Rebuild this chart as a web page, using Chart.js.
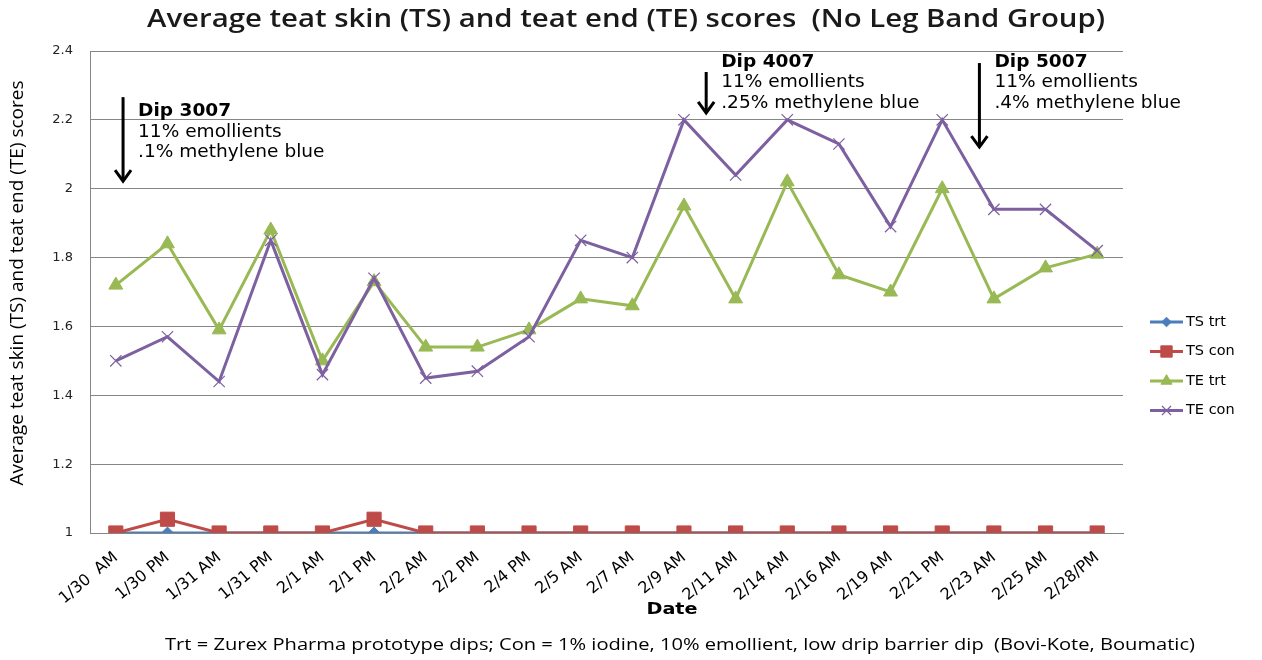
<!DOCTYPE html>
<html><head><meta charset="utf-8">
<script src="https://cdn.jsdelivr.net/npm/chart.js@4.4.0/dist/chart.umd.min.js"></script>
<style>html,body{margin:0;padding:0;background:#fff;}#wrap{width:1262px;height:660px;}</style>
</head><body><div id="wrap"><canvas id="c" width="1262" height="660"></canvas></div>
<script>
const categories = ["1/30  AM","1/30 PM","1/31 AM","1/31 PM","2/1 AM","2/1 PM","2/2 AM","2/2 PM","2/4 PM","2/5 AM","2/7 AM","2/9 AM","2/11 AM","2/14 AM","2/16 AM","2/19 AM","2/21 PM","2/23 AM","2/25 AM","2/28/PM"];
const tsTrt = [1,1,1,1,1,1,1,1,1,1,1,1,1,1,1,1,1,1,1,1];
const tsCon = [1,1.04,1,1,1,1.04,1,1,1,1,1,1,1,1,1,1,1,1,1,1];
const teTrt = [1.72,1.84,1.59,1.88,1.50,1.73,1.54,1.54,1.59,1.68,1.66,1.95,1.68,2.02,1.75,1.70,2.00,1.68,1.77,1.81];
const teCon = [1.50,1.57,1.44,1.85,1.46,1.74,1.45,1.47,1.57,1.85,1.80,2.20,2.04,2.20,2.13,1.89,2.20,1.94,1.94,1.82];
const yMin = 1, yMax = 2.4, yStep = 0.2;
const seriesNames = ["TS trt","TS con","TE trt","TE con"];
const chartTitle = "Average teat skin (TS) and teat end (TE) scores  (No Leg Band Group)";
const yAxisTitle = "Average teat skin (TS) and teat end (TE) scores";
const xAxisTitle = "Date";
const footnote = "Trt = Zurex Pharma prototype dips; Con = 1% iodine, 10% emollient, low drip barrier dip  (Bovi-Kote, Boumatic)";
const notes = [
  {arrowAt: 0.14, arrowFrom: 2.266, arrowTo: 2.022, textTop: 2.223, lines: ["Dip 3007","11% emollients",".1% methylene blue"]},
  {arrowAt: 11.43, arrowFrom: 2.339, arrowTo: 2.22, textTop: 2.368, lines: ["Dip 4007","11% emollients",".25% methylene blue"]},
  {arrowAt: 16.72, arrowFrom: 2.365, arrowTo: 2.121, textTop: 2.368, lines: ["Dip 5007","11% emollients",".4% methylene blue"]}
];

const COLORS = ["#4A7EBB","#BE4B48","#98B954","#7D60A0"];
const STYLES = [
  {pointStyle:"rectRot", radius:6, bw:1},
  {pointStyle:"rect", radius:10, bw:1},
  {pointStyle:"triangle", radius:8, bw:1},
  {pointStyle:"crossRot", radius:8, bw:1.2}
];
const seriesData = [tsTrt, tsCon, teTrt, teCon];

function fitScale(ctx, text, font, targetW){
  ctx.font = font;
  return targetW / ctx.measureText(text).width;
}
function stretchedText(ctx, text, x, y, font, color, align, sx){
  ctx.save();
  ctx.font = font; ctx.fillStyle = color; ctx.textAlign = align; ctx.textBaseline = "middle";
  ctx.translate(x, y); ctx.scale(sx, 1);
  ctx.fillText(text, 0, 0);
  ctx.restore();
}

const decor = {
  id: "decor",
  afterDraw(chart){
    const ctx = chart.ctx;
    const xs = chart.scales.x, ys = chart.scales.y;
    let f = "600 26px 'Open Sans'";
    stretchedText(ctx, chartTitle, 626, 20, f, "#1a1a1a", "center", fitScale(ctx, chartTitle, f, 958));
    f = "500 18px 'Open Sans'";
    const sy = fitScale(ctx, yAxisTitle, f, 405);
    ctx.save();
    ctx.translate(18, 283); ctx.rotate(-Math.PI/2); ctx.scale(sy, 1);
    ctx.font = f; ctx.fillStyle = "#000"; ctx.textAlign = "center"; ctx.textBaseline = "middle";
    ctx.fillText(yAxisTitle, 0, 0);
    ctx.restore();
    stretchedText(ctx, xAxisTitle, 672, 610, "bold 16px 'DejaVu Sans'", "#000", "center", 1.2);
    f = "normal 16.5px 'Open Sans'";
    stretchedText(ctx, footnote, 680, 645, f, "#000", "center", fitScale(ctx, footnote, f, 1030));
    notes.forEach(n => {
      const ax = xs.getPixelForValue(n.arrowAt);
      const y0 = ys.getPixelForValue(n.arrowFrom), y1 = ys.getPixelForValue(n.arrowTo);
      ctx.save();
      ctx.strokeStyle = "#000"; ctx.lineWidth = 3; ctx.lineCap = "butt";
      ctx.beginPath(); ctx.moveTo(ax, y0); ctx.lineTo(ax, y1 - 2); ctx.stroke();
      ctx.beginPath(); ctx.moveTo(ax - 8, y1 - 11); ctx.lineTo(ax, y1); ctx.lineTo(ax + 8, y1 - 11); ctx.stroke();
      ctx.restore();
      const tx = ax + 15;
      const ty = ys.getPixelForValue(n.textTop);
      n.lines.forEach((ln, i) => {
        stretchedText(ctx, ln, tx, ty + i * 20.5, (i === 0 ? "bold " : "500 ") + "17.5px 'DejaVu Sans'", "#000", "left", 1.06);
      });
    });
    const lx = 1150, ly0 = 322, lstep = 29.5;
    chart.data.datasets.forEach((ds, i) => {
      const y = ly0 + i * lstep;
      ctx.save();
      ctx.strokeStyle = COLORS[i]; ctx.fillStyle = COLORS[i]; ctx.lineWidth = 3;
      ctx.beginPath(); ctx.moveTo(lx, y); ctx.lineTo(lx + 33, y); ctx.stroke();
      ctx.lineWidth = STYLES[i].bw;
      Chart.helpers.drawPoint(ctx, {pointStyle: STYLES[i].pointStyle, radius: STYLES[i].radius * 0.8, borderWidth: STYLES[i].bw, rotation: 0}, lx + 16.5, y);
      ctx.restore();
      stretchedText(ctx, ds.label, lx + 36, y, "14.5px 'DejaVu Sans'", "#000", "left", 1.0);
    });
  }
};

const datasets = seriesData.map((arr, i) => ({
  label: seriesNames[i],
  data: arr,
  borderColor: COLORS[i],
  backgroundColor: COLORS[i],
  pointBackgroundColor: COLORS[i],
  pointBorderColor: COLORS[i],
  borderWidth: 3,
  pointStyle: STYLES[i].pointStyle,
  pointRadius: STYLES[i].radius,
  pointBorderWidth: STYLES[i].bw,
  tension: 0,
  order: 4 - i
}));

new Chart(document.getElementById("c"), {
  type: "line",
  data: { labels: categories, datasets },
  options: {
    responsive: false,
    animation: false,
    layout: { padding: { top: 51, right: 139, bottom: 0, left: 0 } },
    plugins: { legend: { display: false }, title: { display: false }, tooltip: { enabled: false } },
    scales: {
      x: {
        type: "category",
        offset: true,
        grid: { display: false, drawTicks: false },
        border: { display: true, color: "#868686", width: 1 },
        ticks: { autoSkip: false, maxRotation: 40, minRotation: 40, padding: 15, color: "#000", font: { family: "'DejaVu Sans'", size: 16 } },
        afterFit(s){ s.height = 127; }
      },
      y: {
        min: yMin, max: yMax,
        grid: { color: "#868686", lineWidth: 1, drawTicks: false },
        border: { display: true, color: "#868686", width: 1 },
        ticks: { stepSize: yStep, padding: 17, color: "#222", font: { family: "'DejaVu Sans'", size: 13 },
          callback: v => String(Number(Number(v).toFixed(1))) },
        afterFit(s){ s.width = 90; }
      }
    }
  },
  plugins: [decor]
});
</script>
</body></html>
